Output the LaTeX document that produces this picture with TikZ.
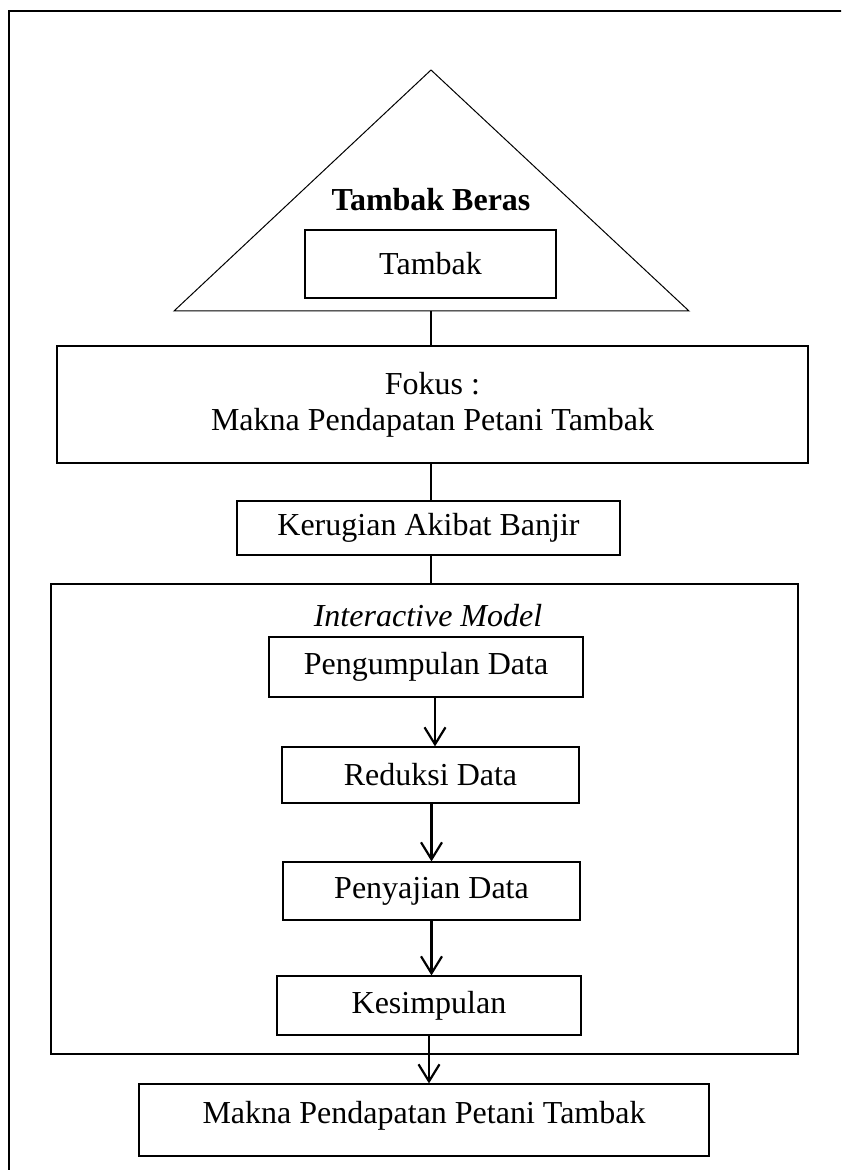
\documentclass[tikz,border=0pt]{standalone}
\usepackage{fontspec}
\setmainfont{Liberation Serif}
\usetikzlibrary{arrows.meta,calc}
\begin{document}
\begin{tikzpicture}[x=0.5pt,y=-0.5pt,
  box/.style={draw, line width=0.6pt, rectangle, inner sep=0pt, align=center, font=\fontsize{16}{18}\selectfont},
  conn/.style={line width=0.8pt},
  arr/.style={line width=1.1pt, -{Straight Barb[length=8.5pt,width=10.5pt,line width=1.1pt]}},
  lbl/.style={font=\fontsize{16}{18}\selectfont, inner sep=0pt}]
\clip (0,0) rectangle (841,1170);
% outer frame (cut at right and bottom)
\draw[line width=1pt] (9,1190) -- (9,11) -- (860,11);
% triangle
\draw[line width=0.5pt] (431,70) -- (689,311) -- (174,311) -- cycle;
\coordinate (tribase) at (431,311);
\node[lbl, font=\fontsize{16}{18}\selectfont\bfseries] (beras) at (431,200) {Tambak Beras};
\node[box, minimum width=125.5pt, minimum height=34pt] (tambak) at (430.5,264) {Tambak};
% focus
\node[box, minimum width=375.5pt, minimum height=58.5pt] (fokus) at (432.5,404.5) {Fokus :\\Makna Pendapatan Petani Tambak};
\node[box, minimum width=191.5pt, minimum height=27pt] (rugi) at (428.5,528) {Kerugian Akibat Banjir};
\node[box, minimum width=373.5pt, minimum height=235pt] (model) at (424.5,819) {};
\node[lbl, font=\fontsize{16}{18}\selectfont\itshape] (mtitle) at (428,616) {Interactive Model};
\node[box, minimum width=157pt, minimum height=30pt] (kumpul) at (426,667) {Pengumpulan Data};
\node[box, minimum width=148.5pt, minimum height=28pt] (reduksi) at (430.5,775) {Reduksi Data};
\node[box, minimum width=148.5pt, minimum height=29pt] (saji) at (431.5,891) {Penyajian Data};
\node[box, minimum width=152pt, minimum height=29.5pt] (simpul) at (429,1005.5) {Kesimpulan};
\node[box, minimum width=285pt, minimum height=36pt, text depth=8pt] (hasil) at (424,1120) {Makna Pendapatan Petani Tambak};
% connectors
\draw[conn] (tribase) -- (tribase |- fokus.north);
\draw[conn] (tribase |- fokus.south) -- (tribase |- rugi.north);
\draw[conn] (tribase |- rugi.south) -- (tribase |- model.north);
\coordinate (a1) at ($(kumpul.south)+(9,0)$);
\coordinate (a2) at ($(reduksi.south)+(1,0)$);
\coordinate (a3) at ($(saji.south)+(0,0)$);
\draw[arr] (a1) -- (a1 |- reduksi.north);
\draw[arr] (a2) -- (a2 |- saji.north);
\draw[arr] (a3) -- (a3 |- simpul.north);
\draw[arr] (simpul.south) -- (simpul.south |- hasil.north);
\end{tikzpicture}
\end{document}
